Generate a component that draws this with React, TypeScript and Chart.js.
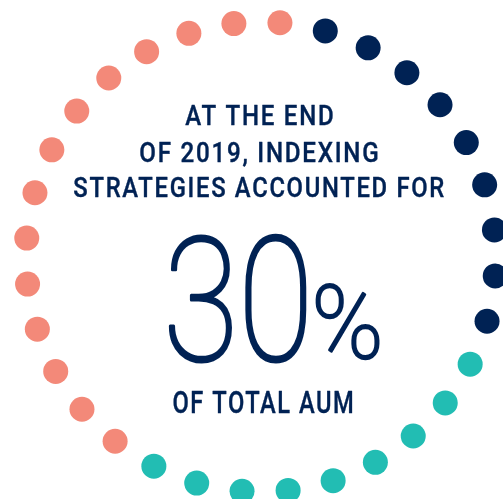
import React, { useEffect, useRef } from 'react';
import { Chart, registerables } from 'chart.js';

Chart.register(...registerables);

// ---- data ----
const segmentNames = ['Indexing strategies', 'Segment B', 'Segment C'];
const segmentDots = [9, 9, 14];
const segmentColors = ['#002254', '#22BDB3', '#F38979'];

const headlineLines = ['AT THE END', 'OF 2019, INDEXING', 'STRATEGIES ACCOUNTED FOR'];
const bigValue = '30';
const bigUnit = '%';
const footLine = 'OF TOTAL AUM';

// ---- text layout (ink boxes) ----
type TextSpec = { text: string; left: number; right: number; base: number; cap: number; weight: number; spacing: string; stroke: number };
const textLayout: TextSpec[] = [
  { text: headlineLines[0], left: 185, right: 333, base: 125, cap: 20, weight: 500, spacing: '2px', stroke: 0.4 },
  { text: headlineLines[1], left: 140, right: 378, base: 162, cap: 20.5, weight: 500, spacing: '2px', stroke: 0.4 },
  { text: headlineLines[2], left: 74, right: 444, base: 197, cap: 20.5, weight: 500, spacing: '2px', stroke: 0.4 },
  { text: bigValue, left: 168, right: 307, base: 360, cap: 127, weight: 100, spacing: '0px', stroke: 3.2 },
  { text: bigUnit, left: 315, right: 380, base: 358, cap: 76, weight: 100, spacing: '0px', stroke: 2.6 },
  { text: footLine, left: 173, right: 353, base: 413, cap: 23, weight: 500, spacing: '2px', stroke: 0.4 },
];
const textColor = '#002254';
const fontFamily = 'Roboto, "Noto Sans", sans-serif';

function drawFit(ctx: CanvasRenderingContext2D, spec: TextSpec) {
  ctx.save();
  (ctx as any).letterSpacing = spec.spacing;
  const half = spec.stroke / 2;
  const probe = 100;
  ctx.font = `${spec.weight} ${probe}px ${fontFamily}`;
  const m = ctx.measureText(spec.text);
  const size = (probe * (spec.cap - half)) / m.actualBoundingBoxAscent;
  ctx.font = `${spec.weight} ${size}px ${fontFamily}`;
  const m2 = ctx.measureText(spec.text);
  const inkW = m2.actualBoundingBoxLeft + m2.actualBoundingBoxRight;
  const sx = (spec.right - spec.left - spec.stroke) / inkW;
  ctx.translate(spec.left + half, spec.base);
  ctx.scale(sx, 1);
  ctx.textAlign = 'left';
  ctx.textBaseline = 'alphabetic';
  ctx.fillStyle = textColor;
  ctx.strokeStyle = textColor;
  ctx.lineJoin = 'round';
  ctx.lineCap = 'round';
  ctx.fillText(spec.text, m2.actualBoundingBoxLeft, 0);
  if (spec.stroke > 0) {
    ctx.lineWidth = spec.stroke;
    ctx.strokeText(spec.text, m2.actualBoundingBoxLeft, 0);
  }
  ctx.restore();
}

const textPlugin = {
  id: 'centerText',
  afterDraw(chart: Chart) {
    const ctx = chart.ctx;
    textLayout.forEach((s) => drawFit(ctx, s));
  },
};

export default function App() {
  const ref = useRef<HTMLCanvasElement | null>(null);
  useEffect(() => {
    if (!ref.current) return;
    const labels: string[] = [];
    const values: number[] = [];
    const colors: string[] = [];
    segmentNames.forEach((name, si) => {
      for (let i = 0; i < segmentDots[si]; i++) {
        labels.push(`${name} ${i + 1}`);
        values.push(1);
        colors.push(segmentColors[si]);
      }
    });
    const chart = new Chart(ref.current, {
      type: 'radar',
      data: {
        labels,
        datasets: [
          {
            data: values,
            showLine: false,
            borderWidth: 0,
            backgroundColor: 'transparent',
            pointBackgroundColor: colors,
            pointBorderWidth: 0,
            pointRadius: 12.5,
            pointHoverRadius: 12.5,
            clip: false as any,
          } as any,
        ],
      },
      options: {
        animation: false,
        responsive: false,
        devicePixelRatio: 1,
        layout: { padding: { left: 26, right: 7, top: 22.5, bottom: 6.5 } },
        plugins: { legend: { display: false }, tooltip: { enabled: false } },
        scales: {
          r: {
            min: 0,
            max: 1,
            startAngle: 15.875,
            display: false,
            ticks: { display: false },
            pointLabels: { display: false },
            grid: { display: false },
            angleLines: { display: false },
          },
        },
      },
      plugins: [textPlugin],
    });
    return () => chart.destroy();
  }, []);
  return (
    <div style={{ position: 'fixed', left: 0, top: 0, width: 503, height: 499, background: '#fff' }}>
      <canvas ref={ref} width={503} height={499} style={{ display: 'block' }} />
    </div>
  );
}
